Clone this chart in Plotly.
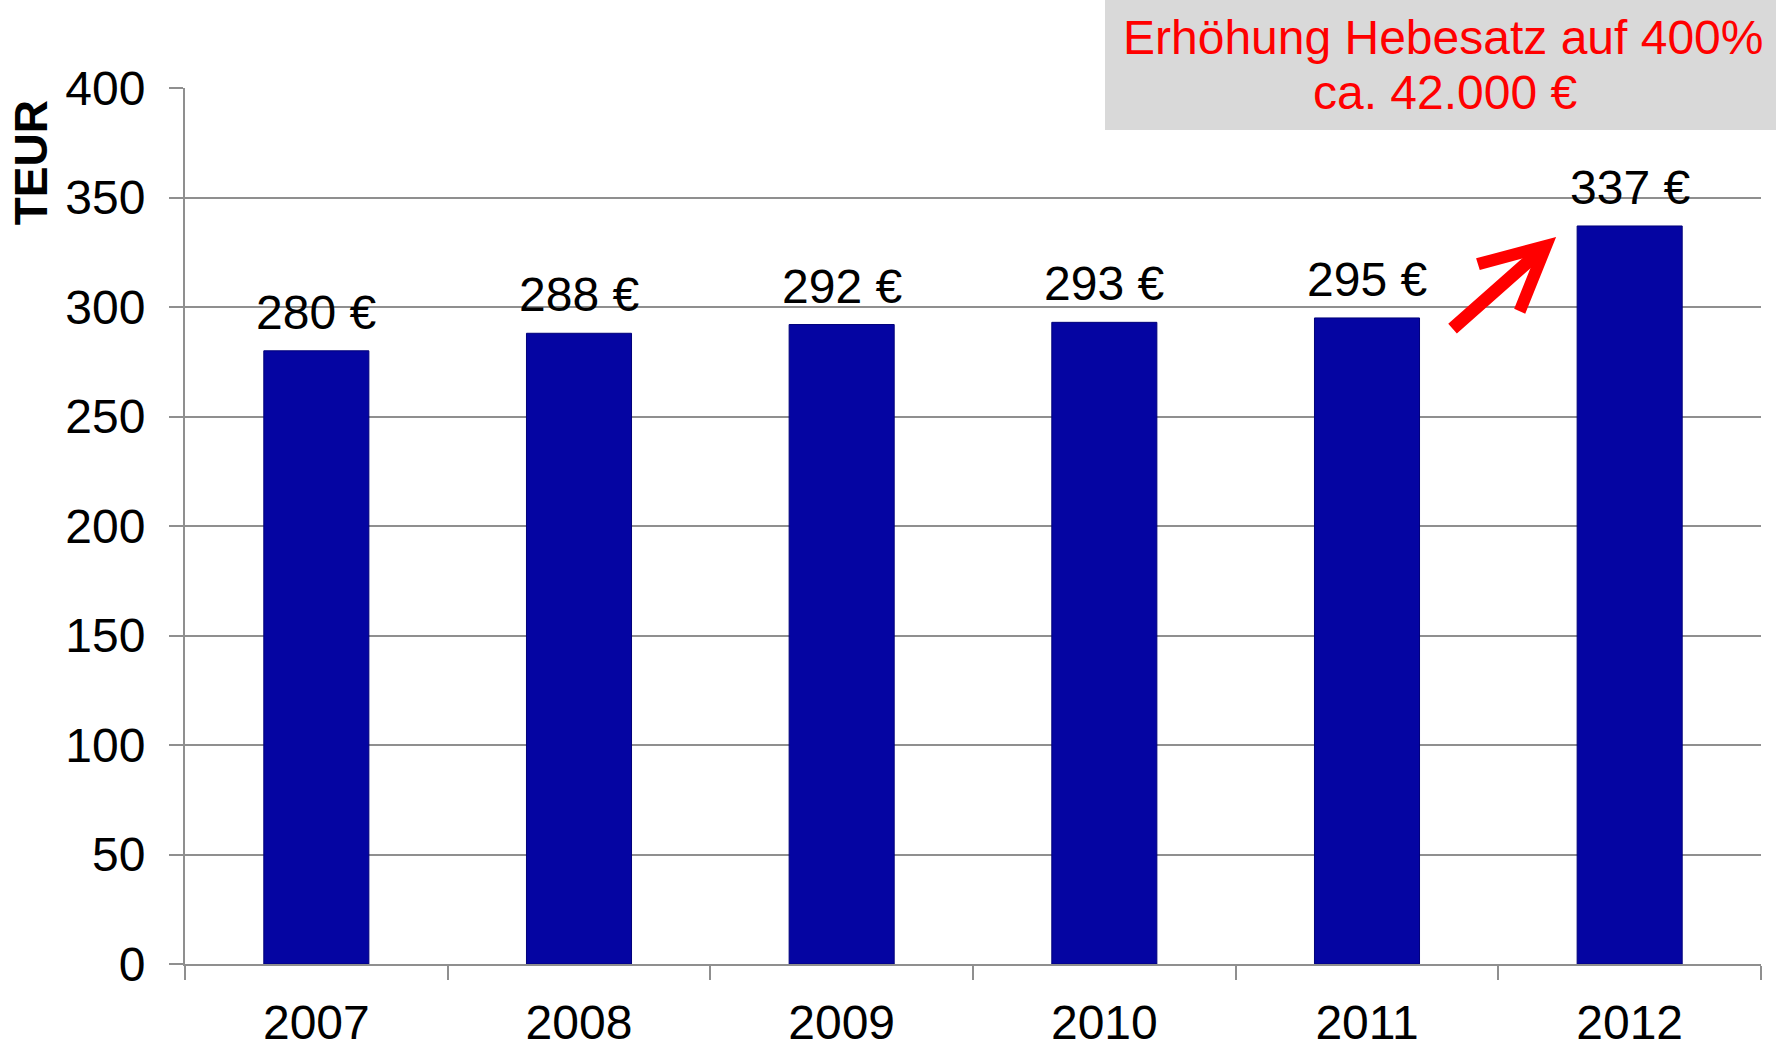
import plotly.graph_objects as go

years = ["2007", "2008", "2009", "2010", "2011", "2012"]
values = [280, 288, 292, 293, 295, 337]
value_labels = [f"{v} €" for v in values]
y_ticks = [0, 50, 100, 150, 200, 250, 300, 350, 400]
note_lines = ["Erhöhung Hebesatz auf 400%", "ca. 42.000 €"]
axis_title = "TEUR"

FONT = "Liberation Sans, Arial, sans-serif"
GRID = "#8f8f8f"

fig = go.Figure()
fig.add_trace(go.Bar(
    x=years, y=values,
    width=0.4,
    marker=dict(color="#0505a2", line=dict(color="#00007a", width=1)),
    hoverinfo="skip",
))

annotations = []
for i, (v, lab) in enumerate(zip(values, value_labels)):
    annotations.append(dict(
        x=i, y=v, xref="x", yref="y", text=lab, showarrow=False,
        yanchor="bottom", xanchor="center", yshift=10,
        font=dict(family=FONT, size=48, color="black"),
    ))

# axis title at top-left
annotations.append(dict(
    x=-0.0977, y=0.914, xref="paper", yref="paper", text=f"<b>{axis_title}</b>",
    textangle=-90, showarrow=False, xanchor="center", yanchor="middle",
    font=dict(family=FONT, size=46, color="black"),
))

# note box text
annotations.append(dict(
    x=0.7985, y=(964 - 37) / 876, xref="paper", yref="paper", text=note_lines[0],
    showarrow=False, xanchor="center", yanchor="middle",
    font=dict(family=FONT, size=48, color="#ff0000"),
))
annotations.append(dict(
    x=0.7995, y=(964 - 93) / 876, xref="paper", yref="paper", text=note_lines[1],
    showarrow=False, xanchor="center", yanchor="middle",
    font=dict(family=FONT, size=48, color="#ff0000"),
))

# red arrow pointing at the 2012 bar
annotations.append(dict(
    x=4.72, y=332, ax=4.32, ay=289.5, xref="x", yref="y", axref="x", ayref="y",
    text="", showarrow=True, arrowhead=5, arrowsize=0.95, arrowwidth=13,
    arrowcolor="#ff0000",
))

fig.update_layout(
    width=1776, height=1050,
    margin=dict(l=185, r=15, t=88, b=86),
    paper_bgcolor="white", plot_bgcolor="white",
    showlegend=False,
    bargap=0.6,
    font=dict(family=FONT, size=48, color="black"),
    annotations=annotations,
    shapes=[dict(
        type="rect", xref="paper", yref="paper",
        x0=(1105 - 185) / 1576, x1=(1776 - 185) / 1576,
        y0=(964 - 130) / 876, y1=964 / 876 + 0.01,
        fillcolor="#d9d9d9", line=dict(width=0), layer="above",
    )],
)
fig.update_xaxes(
    type="category", range=[-0.5, len(years) - 0.5],
    automargin=False,
    showline=True, linecolor=GRID, linewidth=2,
    ticks="outside", tickson="boundaries", ticklen=14, tickcolor=GRID, tickwidth=2,
    tickfont=dict(family=FONT, size=48, color="black"),
    tickangle=0, ticklabelstandoff=15,
    showgrid=False,
)
fig.update_yaxes(
    range=[0, 400], tickvals=y_ticks,
    automargin=False,
    showline=True, linecolor=GRID, linewidth=2,
    ticks="outside", ticklen=14, tickcolor=GRID, tickwidth=2,
    showgrid=True, gridcolor=GRID, gridwidth=1.5,
    zeroline=False,
    tickfont=dict(family=FONT, size=48, color="black"),
    ticklabelstandoff=14,
)

fig.write_html(
    "out.html",
    config={"displayModeBar": False},
    post_script="document.body.style.margin='0';document.body.style.overflow='hidden';",
)
